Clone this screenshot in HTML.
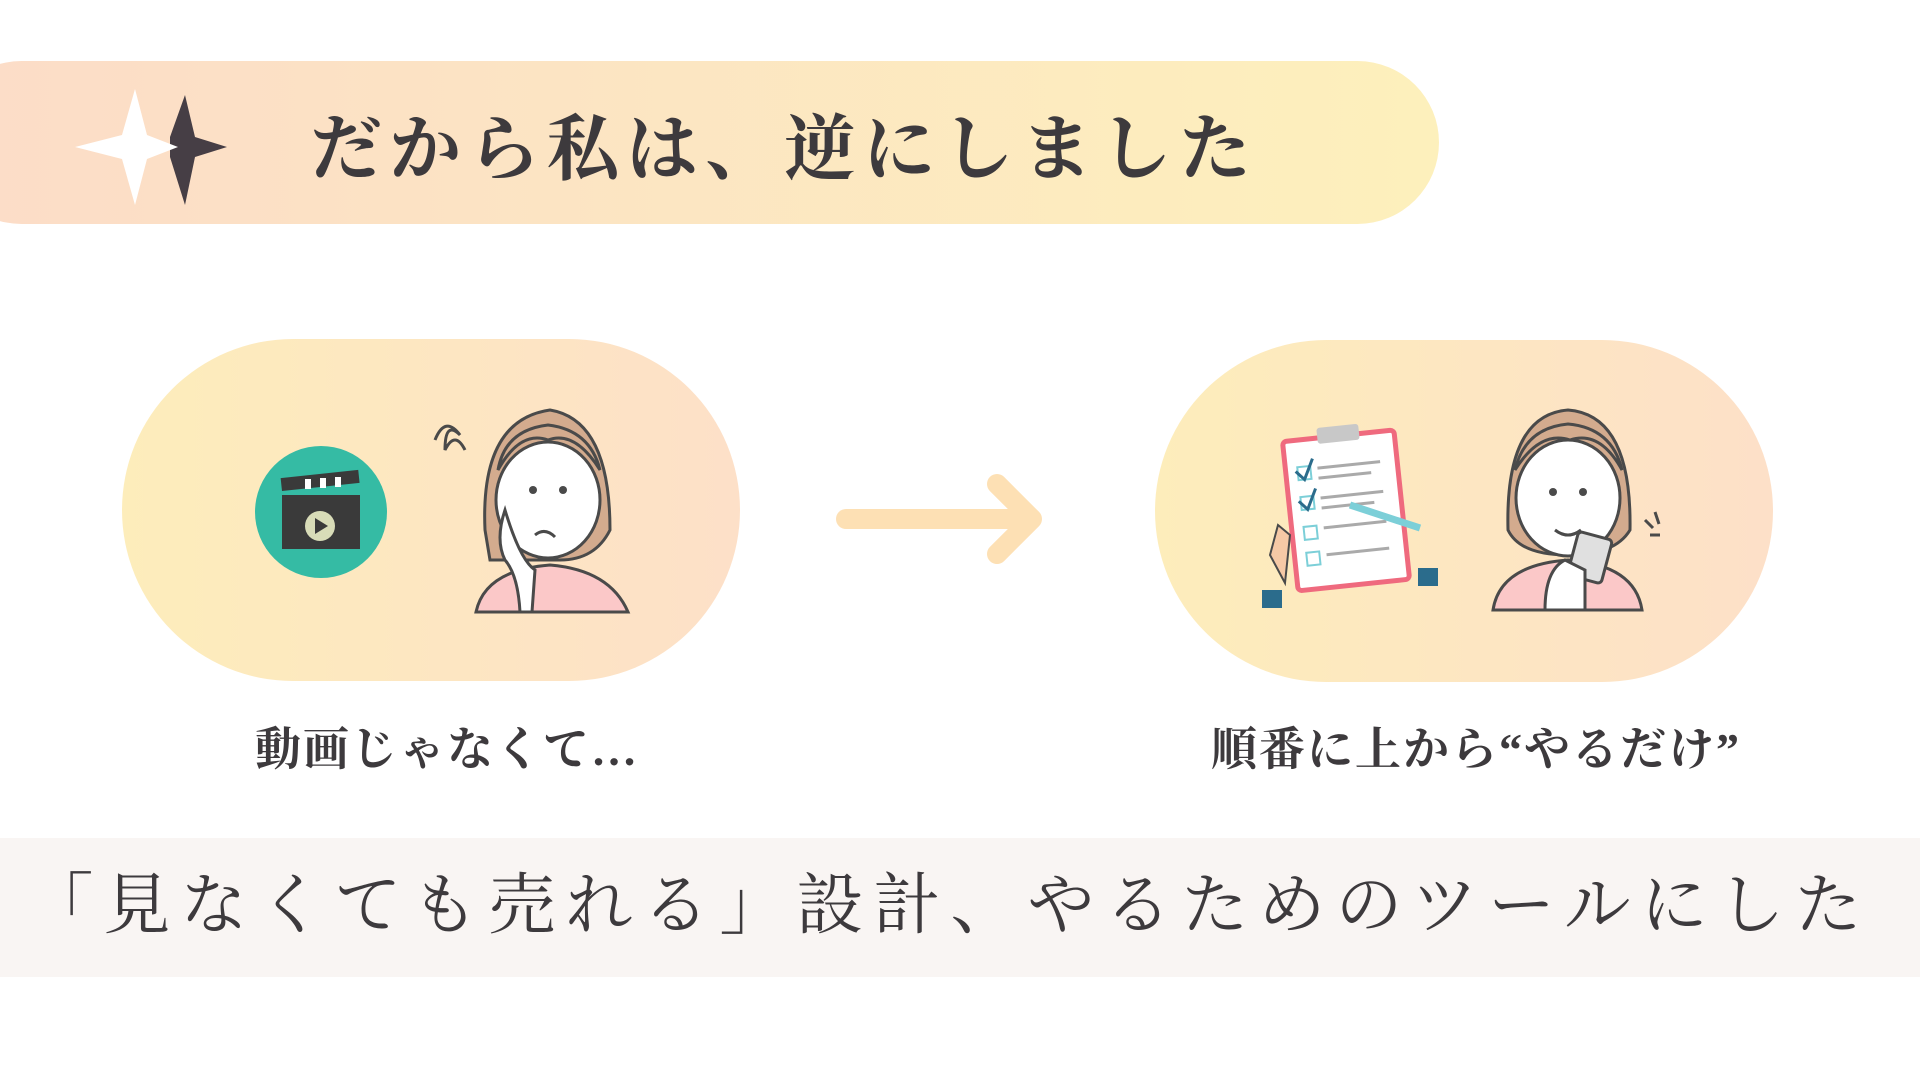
<!DOCTYPE html>
<html><head><meta charset="utf-8"><style>
html,body{margin:0;padding:0;width:1920px;height:1080px;background:#fff;overflow:hidden;position:relative;font-family:"Liberation Sans","Noto Sans CJK JP",sans-serif;color:#3d3a3d}
.abs{position:absolute}
.pill{left:-60px;top:61px;width:1499px;height:163px;border-radius:82px;background:linear-gradient(90deg,#fcdcc8,#fdf0bc)}
.title{left:310px;top:105px;font-size:72px;font-weight:bold;letter-spacing:7px;line-height:90px;white-space:nowrap;font-family:"Liberation Serif","Noto Serif CJK SC",serif}
.card{width:618px;height:342px;border-radius:171px;background:linear-gradient(90deg,#fdedbb,#fde0c8)}
.lab{font-size:46px;font-weight:bold;text-align:center;width:800px;line-height:60px;white-space:nowrap;font-family:"Liberation Serif","Noto Serif CJK SC",serif;letter-spacing:2px}
.band{left:0;top:838px;width:1920px;height:139px;background:#f9f5f3}
.btxt{left:0;top:866px;width:1898px;text-align:center;font-size:67px;letter-spacing:10px;line-height:80px;white-space:nowrap;font-family:"Liberation Serif","Noto Serif CJK SC",serif;color:#3d3a3d}
</style></head><body>
<div class="abs pill"></div>
<svg class="abs" style="left:70px;top:85px" width="170" height="125" viewBox="0 0 170 125">
<polygon points="115,10 125,52 157,62 125,72 115,120 100,72 100,52" fill="#463e45"/>
<polygon points="65,4 77,50 108,62 77,74 65,120 52,74 5,62 52,50" fill="#fff"/>
</svg>
<div class="abs title">だから私は、逆にしました</div>

<div class="abs card" style="left:122px;top:339px"></div>
<div class="abs card" style="left:1155px;top:340px"></div>

<svg class="abs" style="left:0;top:0" width="1920" height="1080">
<g stroke="#fde0b4" stroke-width="20" stroke-linecap="round" fill="none" stroke-linejoin="round">
<line x1="846" y1="519" x2="1030" y2="519"/>
<polyline points="997,484 1032,519 997,554"/>
</g>
<circle cx="321" cy="512" r="66" fill="#35bba4"/>
<rect x="282" y="495" width="78" height="54" fill="#3a3a3a"/>
<rect x="282" y="478" width="78" height="13" fill="#3a3a3a" transform="rotate(-6 282 491)"/>
<g fill="#fff"><rect x="305" y="479" width="6" height="10"/><rect x="320" y="478" width="6" height="10"/><rect x="335" y="477" width="6" height="10"/></g>
<circle cx="320" cy="526" r="15" fill="#d8dcb8"/>
<polygon points="315,518 315,534 328,526" fill="#3a3a3a"/>
<g stroke="#4a4a4a" stroke-width="3">
<path d="M476,612 Q485,570 550,565 Q610,570 628,612 Z" fill="#fbc8c8"/>
<path d="M485,530 Q480,420 550,410 Q610,420 610,530 Q595,560 560,560 L490,560 Z" fill="#d3ab8e"/>
<ellipse cx="548" cy="500" rx="52" ry="58" fill="#fff"/>
<path d="M498,470 Q520,430 548,440 Q575,430 600,470 Q590,430 548,425 Q505,430 498,470Z" fill="#d3ab8e"/>
<path d="M505,510 Q520,560 535,570 L532,612 L520,612 Q518,575 505,560 Q495,540 505,510Z" fill="#fff"/>
<path d="M435,440 q10,-25 25,-5 q-15,-15 -15,15 q10,-20 20,0" fill="none"/>
<path d="M535,535 q10,-8 20,2" fill="none"/>
</g>
<circle cx="533" cy="490" r="4" fill="#4a4a4a"/><circle cx="563" cy="490" r="4" fill="#4a4a4a"/>
<g transform="rotate(-6 1350 510)">
<rect x="1290" y="435" width="112" height="150" rx="4" fill="#fff" stroke="#ef6a7e" stroke-width="5"/>
<rect x="1325" y="425" width="42" height="16" rx="3" fill="#c8c8c8"/>
<g stroke="#aaa" stroke-width="3"><line x1="1322" y1="465" x2="1385" y2="465"/><line x1="1322" y1="475" x2="1375" y2="475"/><line x1="1322" y1="495" x2="1385" y2="495"/><line x1="1322" y1="505" x2="1375" y2="505"/><line x1="1322" y1="525" x2="1385" y2="525"/><line x1="1322" y1="552" x2="1385" y2="552"/></g>
<g fill="none" stroke="#7ccfd8" stroke-width="2"><rect x="1302" y="462" width="13" height="13"/><rect x="1302" y="492" width="13" height="13"/><rect x="1302" y="522" width="13" height="13"/><rect x="1302" y="548" width="13" height="13"/></g>
<g fill="none" stroke="#2b6c8c" stroke-width="3"><polyline points="1300,466 1308,475 1318,455"/><polyline points="1300,496 1308,505 1318,485"/></g>
</g>
<path d="M1270,555 l8,-30 l12,10 l-5,48 Z" fill="#f6c9a6" stroke="#4a4a4a" stroke-width="2"/>
<rect x="1262" y="590" width="20" height="18" fill="#2b6c8c"/>
<rect x="1418" y="568" width="20" height="18" fill="#2b6c8c"/>
<line x1="1350" y1="505" x2="1420" y2="528" stroke="#7ccfd8" stroke-width="7"/>
<g stroke="#4a4a4a" stroke-width="3">
<path d="M1493,610 Q1500,565 1568,560 Q1635,565 1642,610 Z" fill="#fbc8c8"/>
<path d="M1508,530 Q1505,415 1568,410 Q1632,415 1630,530 Q1615,555 1568,555 Q1520,555 1508,530 Z" fill="#d3ab8e"/>
<ellipse cx="1568" cy="498" rx="52" ry="58" fill="#fff"/>
<path d="M1515,470 Q1540,430 1570,440 Q1600,430 1622,470 Q1612,428 1568,424 Q1525,428 1515,470Z" fill="#d3ab8e"/>
<rect x="1573" y="535" width="35" height="45" rx="4" fill="#e0e0e0" transform="rotate(15 1590 555)"/>
<path d="M1545,610 q0,-40 20,-50 l20,10 l0,40Z" fill="#fff"/>
<path d="M1555,530 q13,10 26,0" fill="none"/>
<path d="M1645,520 l8,8 M1655,512 l4,12 M1650,535 l10,0" fill="none"/>
</g>
<circle cx="1553" cy="492" r="4" fill="#4a4a4a"/><circle cx="1583" cy="492" r="4" fill="#4a4a4a"/>
</svg>

<div class="abs lab" style="left:47px;top:720px">動画じゃなくて…</div>
<div class="abs lab" style="left:1076px;top:720px">順番に上から“やるだけ”</div>

<div class="abs band"></div>
<div class="abs btxt">「見なくても売れる」設計、やるためのツールにした</div>
</body></html>
